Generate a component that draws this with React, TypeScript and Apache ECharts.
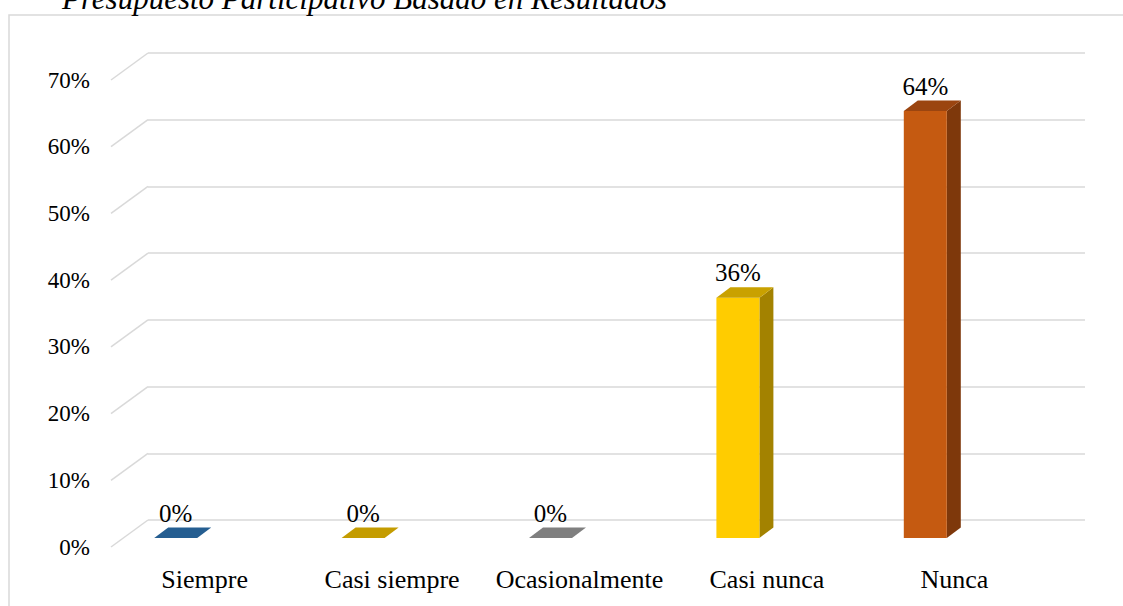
import React, { useEffect, useRef } from "react";
import * as echarts from "echarts";

const categories = ["Siempre", "Casi siempre", "Ocasionalmente", "Casi nunca", "Nunca"];
const values = [0, 0, 0, 0.36, 0.64];
const tickValues = [0, 0.1, 0.2, 0.3, 0.4, 0.5, 0.6, 0.7];
const frontColors = ["#2E75B6", "#FFC000", "#A5A5A5", "#FFCC00", "#C55A11"];
const sideColors = ["#1F4E79", "#A37B00", "#6B6B6B", "#A38200", "#7E380B"];
const topColors = ["#255E91", "#C49C00", "#7F7F7F", "#C9A100", "#9B4510"];
const titleText = "Presupuesto Participativo Basado en Resultados";

const FONT = "'Liberation Serif', 'Times New Roman', serif";
const pct = (v: number) => Math.round(v * 100) + "%";

// perspective offsets
const DEPTH_X = -37;
const DEPTH_Y = 27;
const BAR_SHIFT_X = -66;
const BAR_SHIFT_Y = 18;
const BAR_HALF = 21.5;
const SIDE_DX = 14;
const SIDE_DY = -10.5;

export default function App() {
  const ref = useRef<HTMLDivElement>(null);
  useEffect(() => {
    if (!ref.current) return;
    const chart = echarts.init(ref.current, undefined, { renderer: "svg" });
    const option: any = {
      animation: false,
      backgroundColor: "#ffffff",
      graphic: [
        {
          type: "rect",
          shape: { x: 9, y: 15, width: 1130, height: 620 },
          style: { fill: "none", stroke: "#D9D9D9", lineWidth: 1.5 },
          silent: true,
          z: -10,
        },
        {
          type: "text",
          x: 62,
          y: 14,
          style: {
            text: titleText,
            font: `italic 31px ${FONT}`,
            fill: "#000000",
            verticalAlign: "bottom",
            align: "left",
          },
        },
      ],
      grid: [
        { left: 148, top: 53, width: 937, height: 467 },
        { left: 111, top: 80, width: 937, height: 467 },
      ],
      xAxis: [
        {
          gridIndex: 0,
          type: "category",
          data: categories,
          boundaryGap: true,
          axisLine: { show: false },
          axisTick: { show: false },
          axisLabel: { show: false },
        },
        {
          gridIndex: 1,
          type: "category",
          data: categories,
          boundaryGap: true,
          axisLine: { show: false },
          axisTick: { show: false },
          axisLabel: {
            show: true,
            interval: 0,
            margin: 19,
            fontFamily: FONT,
            fontSize: 26,
            color: "#000000",
          },
        },
      ],
      yAxis: [
        {
          gridIndex: 0,
          type: "value",
          min: 0,
          max: 0.7,
          interval: 0.1,
          axisLine: { show: false },
          axisTick: { show: false },
          axisLabel: { show: false },
          splitLine: { show: true, lineStyle: { color: "#D9D9D9", width: 1.5 } },
        },
        {
          gridIndex: 1,
          type: "value",
          min: 0,
          max: 0.7,
          interval: 0.1,
          axisLine: { show: false },
          axisTick: { show: false },
          splitLine: { show: false },
          axisLabel: {
            show: true,
            margin: 21,
            fontFamily: FONT,
            fontSize: 23,
            color: "#000000",
            formatter: (v: number) => pct(v),
          },
        },
      ],
      series: [
        {
          type: "custom",
          xAxisIndex: 0,
          yAxisIndex: 0,
          silent: true,
          data: tickValues.map((v) => [0, v]),
          renderItem: (params: any, api: any) => {
            const cs = params.coordSys;
            const p = api.coord([0, api.value(1)]);
            return {
              type: "line",
              shape: { x1: cs.x + DEPTH_X, y1: p[1] + DEPTH_Y, x2: cs.x, y2: p[1] },
              style: { stroke: "#D9D9D9", lineWidth: 1.5 },
            };
          },
          z: 1,
        },
        {
          type: "custom",
          xAxisIndex: 0,
          yAxisIndex: 0,
          data: values.map((v, i) => [i, v]),
          renderItem: (params: any, api: any) => {
            const i = api.value(0);
            const v = api.value(1);
            const top = api.coord([i, v]);
            const base = api.coord([i, 0]);
            const cx = top[0] + BAR_SHIFT_X;
            const xl = cx - BAR_HALF;
            const xr = cx + BAR_HALF;
            const yt = top[1] + BAR_SHIFT_Y;
            const yb = base[1] + BAR_SHIFT_Y;
            const children: any[] = [];
            if (yb - yt > 0.5) {
              children.push({
                type: "polygon",
                shape: {
                  points: [
                    [xr, yt],
                    [xr + SIDE_DX, yt + SIDE_DY],
                    [xr + SIDE_DX, yb + SIDE_DY],
                    [xr, yb],
                  ],
                },
                style: { fill: sideColors[i] },
              });
              children.push({
                type: "rect",
                shape: { x: xl, y: yt, width: xr - xl, height: yb - yt },
                style: { fill: frontColors[i] },
              });
            }
            children.push({
              type: "polygon",
              shape: {
                points: [
                  [xl, yt],
                  [xl + SIDE_DX, yt + SIDE_DY],
                  [xr + SIDE_DX, yt + SIDE_DY],
                  [xr, yt],
                ],
              },
              style: { fill: topColors[i] },
            });
            children.push({
              type: "text",
              x: cx,
              y: yt + SIDE_DY - 2,
              style: {
                text: pct(v),
                font: `25px ${FONT}`,
                fill: "#000000",
                align: "center",
                verticalAlign: "bottom",
              },
            });
            return { type: "group", children };
          },
          z: 2,
        },
      ],
    };
    chart.setOption(option);
    return () => chart.dispose();
  }, []);
  return (
    <div
      ref={ref}
      style={{ position: "fixed", left: 0, top: 0, width: 1123, height: 606 }}
    />
  );
}
